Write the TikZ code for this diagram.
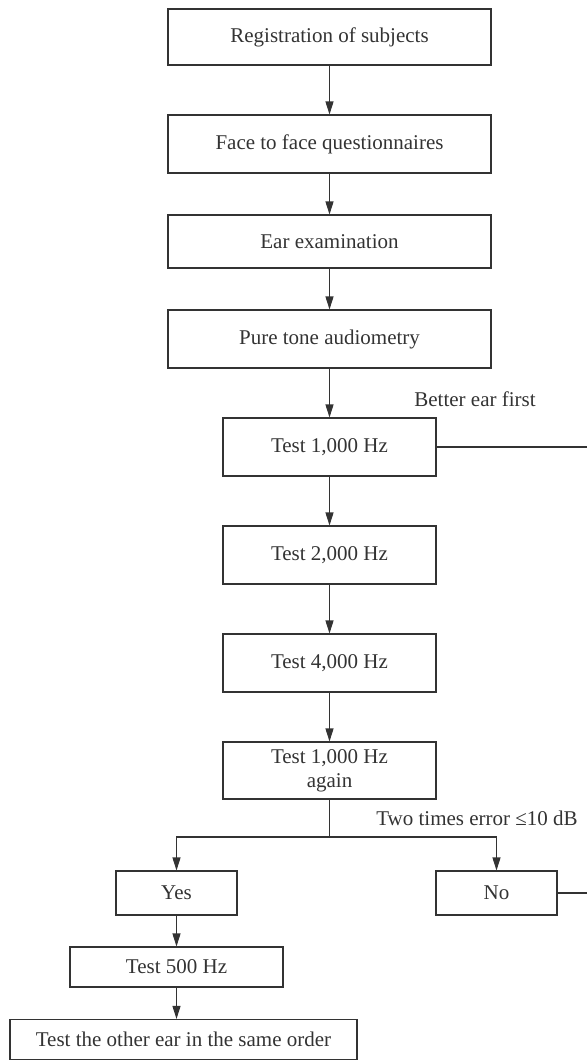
\documentclass[tikz,border=0pt]{standalone}
\usepackage{fontspec}
\setmainfont{Liberation Serif}
\usetikzlibrary{arrows.meta}
\definecolor{ink}{gray}{0.2}
\tikzset{
  box/.style={draw=ink, line width=1.1pt, inner sep=0pt, rectangle, align=center, text=ink, font=\fontsize{21}{24}\selectfont},
  conn/.style={draw=ink, line width=1.1pt},
  arr/.style={conn, -{Triangle[length=13pt,width=8pt]}},
  lbl/.style={text=ink, inner sep=0pt, font=\fontsize{21}{24}\selectfont}
}
\begin{document}
\begin{tikzpicture}[x=1pt,y=-1pt]
\useasboundingbox (0,0) rectangle (587,1060);
\node[box, minimum width=323pt, minimum height=56pt] (reg) at (329.5,37) {Registration of subjects};
\node[box, minimum width=323pt, minimum height=58pt] (face) at (329.5,144) {Face to face questionnaires};
\node[box, minimum width=323pt, minimum height=53pt] (ear) at (329.5,241.5) {Ear examination};
\node[box, minimum width=323pt, minimum height=58pt] (pure) at (329.5,339) {Pure tone audiometry};
\node[box, minimum width=213pt, minimum height=58pt] (t1) at (329.5,447) {Test 1,000 Hz};
\node[box, minimum width=213pt, minimum height=58pt] (t2) at (329.5,555) {Test 2,000 Hz};
\node[box, minimum width=213pt, minimum height=58pt] (t4) at (329.5,663) {Test 4,000 Hz};
\node[box, minimum width=213pt, minimum height=57pt] (t1a) at (329.5,770.5) {Test 1,000 Hz\\again};
\node[box, minimum width=121pt, minimum height=44pt] (yes) at (176.5,893) {Yes};
\node[box, minimum width=121pt, minimum height=44pt] (no) at (496.5,893) {No};
\node[box, minimum width=213pt, minimum height=40pt] (t5) at (176.5,967) {Test 500 Hz};
\node[box, minimum width=347pt, minimum height=40pt] (other) at (183.5,1039.5) {Test the other ear in the same order};
\node[lbl] (better) at (475,399) {Better ear first};
\node[lbl] (cond) at (477,818) {Two times error ≤10 dB};
\coordinate (split) at (329.5,837);
\coordinate (r1) at (587,447);
\coordinate (r2) at (587,893);
\draw[arr] (reg) -- (face);
\draw[arr] (face) -- (ear);
\draw[arr] (ear) -- (pure);
\draw[arr] (pure) -- (t1);
\draw[arr] (t1) -- (t2);
\draw[arr] (t2) -- (t4);
\draw[arr] (t4) -- (t1a);
\draw[conn] (t1a) -- (split);
\draw[arr] (split) -| (yes);
\draw[arr] (split) -| (no);
\draw[arr] (yes) -- (t5);
\draw[arr] (t5) -- (other.north -| t5);
\draw[conn] (t1) -- (r1);
\draw[conn] (no) -- (r2);
\end{tikzpicture}
\end{document}
